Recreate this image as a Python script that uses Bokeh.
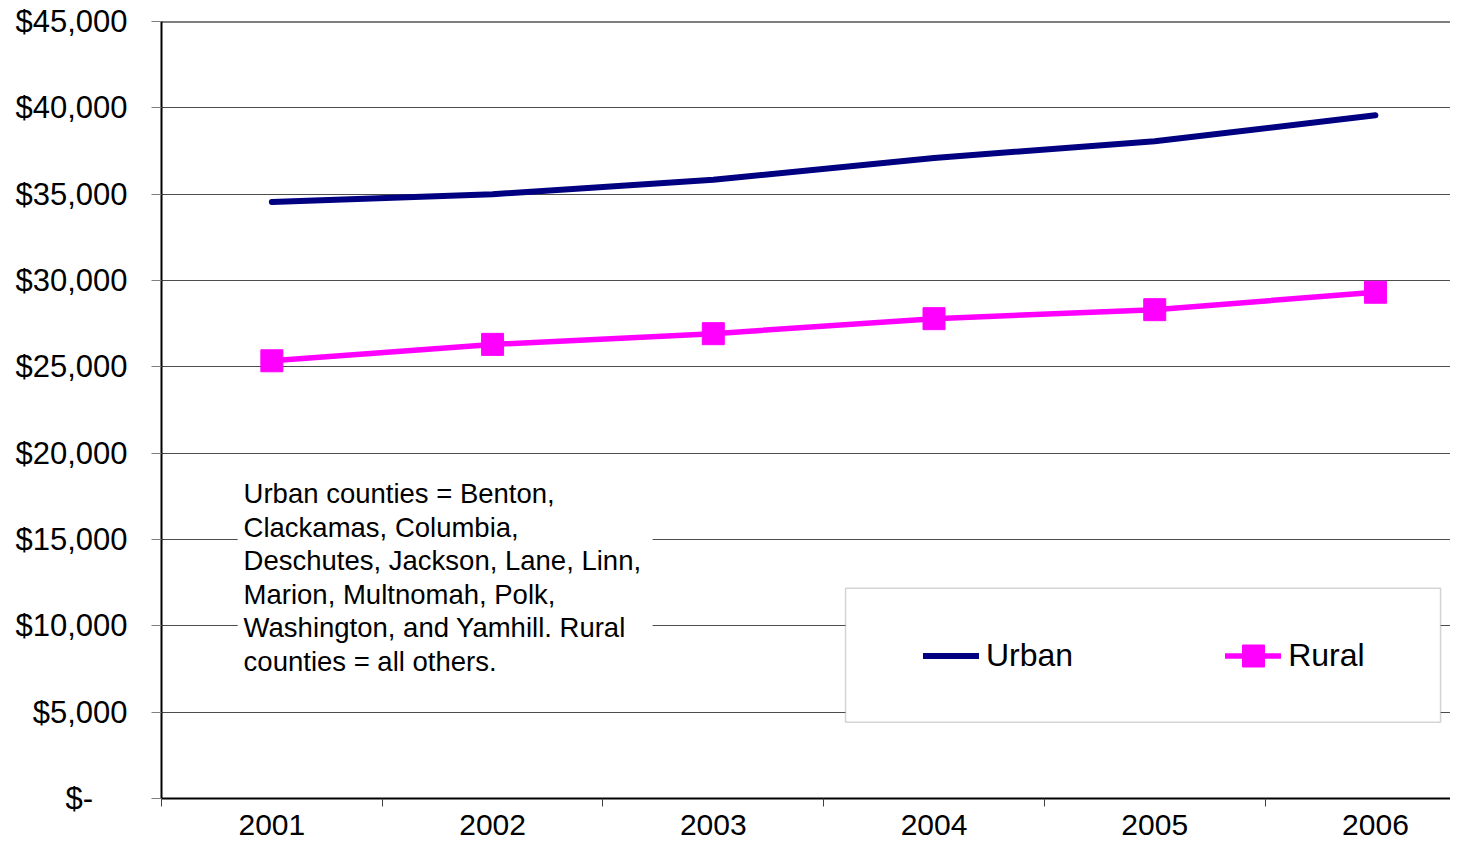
from bokeh.plotting import figure
from bokeh.models import (FixedTicker, Range1d, Span, BoxAnnotation, Label, Legend, LegendItem,
                          NumeralTickFormatter)
from bokeh.embed import file_html
from bokeh.resources import INLINE

years = [2001, 2002, 2003, 2004, 2005, 2006]
urban = [34550, 35000, 35830, 37100, 38060, 39570]
rural = [25350, 26300, 26920, 27790, 28310, 29320]
y_ticks = [0, 5000, 10000, 15000, 20000, 25000, 30000, 35000, 40000, 45000]
note_lines = [
    "Urban counties = Benton,",
    "Clackamas, Columbia,",
    "Deschutes, Jackson, Lane, Linn,",
    "Marion, Multnomah, Polk,",
    "Washington, and Yamhill. Rural",
    "counties = all others.",
]

FONT = "Liberation Sans"
W, H = 1450, 842

p = figure(width=W, height=H, output_backend="svg", toolbar_location=None,
           x_range=Range1d(2000.5, 2006.340), y_range=Range1d(0, 45000),
           min_border_left=161, min_border_right=0, min_border_top=21, min_border_bottom=44)
p.outline_line_color = None
p.background_fill_color = "white"
p.border_fill_color = "white"

# axes
p.xaxis.ticker = FixedTicker(ticks=years, minor_ticks=[y - 0.5 for y in years] + [years[-1] + 0.5])
p.xaxis.major_tick_out = 0
p.xaxis.major_tick_in = 0
p.xaxis.minor_tick_out = 8
p.xaxis.minor_tick_in = 0
p.xaxis.minor_tick_line_color = "#404040"
p.xaxis.axis_line_color = "black"
p.xaxis.axis_line_width = 2
p.xaxis.major_label_text_font = FONT
p.xaxis.major_label_text_font_size = "30px"
p.xaxis.major_label_text_color = "black"
p.xaxis.major_label_standoff = 8

p.yaxis.ticker = FixedTicker(ticks=y_ticks)
p.yaxis.formatter = NumeralTickFormatter(format="$0,0")
p.yaxis.major_label_overrides = {0: "$-\u00a0\u00a0\u00a0\u00a0"}
p.yaxis.major_tick_out = 10
p.yaxis.major_tick_in = 0
p.yaxis.minor_tick_out = 0
p.yaxis.minor_tick_in = 0
p.yaxis.major_tick_line_color = "#808080"
p.yaxis.axis_line_color = "black"
p.yaxis.axis_line_width = 2
p.yaxis.major_label_text_font = FONT
p.yaxis.major_label_text_font_size = "31px"
p.yaxis.major_label_text_color = "black"
p.yaxis.major_label_standoff = 24

p.xgrid.grid_line_color = None
p.ygrid.grid_line_color = "#4d4d4d"
p.ygrid.grid_line_width = 1

p.add_layout(Span(location=45000, dimension="width", line_color="black", line_width=2))

# note box
p.add_layout(BoxAnnotation(left=2000.845, right=2002.725, bottom=6850, top=18550,
                           fill_color="white", fill_alpha=1.0, line_color=None, level="underlay"))
for i, t in enumerate(note_lines):
    p.add_layout(Label(x=2000.872, y=17655 - i * 1945, text=t, text_font=FONT,
                       text_font_size="27.5px", text_color="black", text_baseline="middle"))

# legend box
p.add_layout(BoxAnnotation(left=2003.599, right=2006.295, bottom=4410, top=12170,
                           fill_color="white", fill_alpha=1.0, line_color="#707070",
                           line_width=1.5, level="underlay"))

r_u = p.line(years, urban, line_color="#000080", line_width=6, line_cap="round", line_join="round")
r_rl = p.line(years, rural, line_color="#FF00FF", line_width=5.5, line_cap="round")
r_rm = p.scatter(years, rural, marker="square", size=22, fill_color="#FF00FF", line_color="#FF00FF")

legend = Legend(items=[LegendItem(label="Urban", renderers=[r_u]),
                       LegendItem(label="Rural", renderers=[r_rl, r_rm])],
                orientation="horizontal", location=(762, 115),
                border_line_color=None, background_fill_alpha=0.0,
                padding=0, margin=0, spacing=152, label_standoff=7,
                glyph_width=56, glyph_height=55,
                label_text_font=FONT, label_text_font_size="32px", label_text_color="black")
p.add_layout(legend)

open("out.html", "w").write(file_html(p, INLINE))
